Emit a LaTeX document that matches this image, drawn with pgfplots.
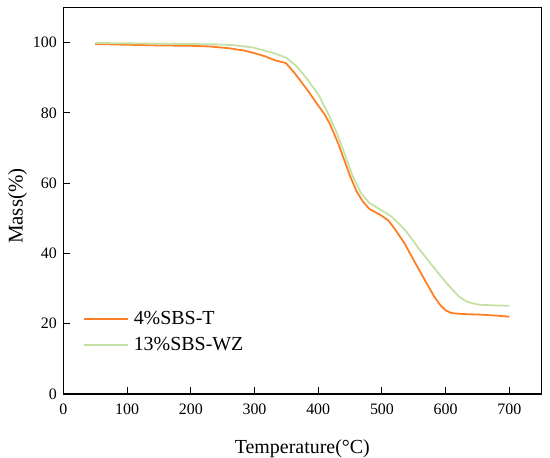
\documentclass[border=0pt]{standalone}
\usepackage{pgfplots}
\pgfplotsset{compat=1.18}
\usepackage{fontspec}
\setmainfont{Liberation Serif}
\definecolor{corange}{RGB}{255,127,39}
\definecolor{cgreen}{RGB}{197,224,165}
\begin{document}
\begin{tikzpicture}
\path[use as bounding box] (-63.3bp,-64bp) rectangle (486.7bp,394bp);
\begin{axis}[
  at={(0,0)}, anchor=south west,
  scale only axis, width=478bp, height=386.5bp,
  xmin=0, xmax=750, ymin=0, ymax=110,
  xtick={0,100,...,700}, ytick={0,20,...,100},
  tick align=inside, xtick pos=bottom, ytick pos=left,
  major tick length=7bp,
  axis line style={line width=1.1bp, black},
  every tick/.style={line width=1bp, black},
  tick label style={font=\fontsize{16}{18}\selectfont},
  xticklabel style={yshift=-6bp},
  yticklabel style={xshift=-3bp},
  /pgf/number format/assume math mode=true,
  xlabel={Temperature(°C)}, ylabel={Mass(\%)},
  xlabel style={font=\fontsize{20}{22}\selectfont, at={(axis description cs:0.5,0)}, anchor=base, yshift=-59bp},
  ylabel style={font=\fontsize{21}{24}\selectfont, at={(axis description cs:-0.0958,0.486)}, anchor=center},
  legend style={draw=none, fill=none, at={(axis description cs:0,0)}, anchor=south west,
    xshift=17bp, yshift=36bp, font=\fontsize{20}{22}\selectfont,
    nodes={inner sep=1.5bp, text height=14bp, text depth=4bp}, row sep=5bp},
  legend cell align=left,
  legend image code/.code={\draw[#1] (0bp,0bp) -- (44bp,0bp); \path (47bp,0bp);},
]
\addplot[corange, line width=1.8bp] coordinates {
(50,99.6) (100,99.4) (150,99.2) (200,99.1) (230,98.9) (260,98.4) (285,97.7) (300,97.0)
(315,96.2) (332,95.0) (349,94.2) (356,92.8) (363,91.3) (376,88.2) (387,85.5) (398,82.6)
(410,79.6) (418,77.0) (425,74.0) (432,71.0) (441,66.5) (450,62.0) (460,57.7) (470,54.8)
(480,52.7) (490,51.7) (499,50.8) (510,49.4) (520,47.0) (535,43.0) (551,37.7) (567,32.5)
(582,27.7) (592,25.2) (600,23.8) (608,23.1) (616,22.9) (635,22.7) (653,22.6) (680,22.3) (700,22.0)
};
\addlegendentry{4\%SBS-T}
\addplot[cgreen, line width=1.8bp] coordinates {
(50,99.9) (100,99.8) (150,99.7) (200,99.6) (240,99.5) (266,99.3) (285,98.9) (298,98.6)
(318,97.6) (332,96.9) (350,95.7) (366,93.3) (381,90.0) (400,85.3) (415,80.0) (428,74.8)
(441,68.6) (454,62.0) (467,57.2) (480,54.4) (499,52.3) (514,50.6) (525,48.8) (538,46.3)
(559,41.1) (580,36.3) (601,31.6) (621,27.7) (632,26.4) (640,25.9) (653,25.4) (680,25.2) (700,25.1)
};
\addlegendentry{13\%SBS-WZ}
\end{axis}
\end{tikzpicture}
\end{document}
